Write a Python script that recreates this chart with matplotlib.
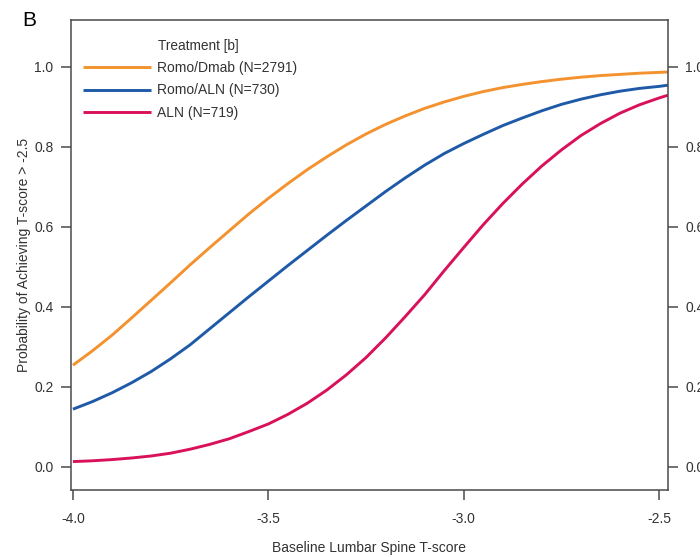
import matplotlib
matplotlib.use('Agg')
import matplotlib.pyplot as plt
import numpy as np

plt.rcParams['font.family'] = ['Liberation Sans', 'DejaVu Sans']

# values (step 0.05)
tscore = [-4.0, -3.95, -3.9, -3.85, -3.8, -3.75, -3.7, -3.65, -3.6, -3.55, -3.5,
          -3.45, -3.4, -3.35, -3.3, -3.25, -3.2, -3.15, -3.1, -3.05, -3.0,
          -2.95, -2.9, -2.85, -2.8, -2.75, -2.7, -2.65, -2.6, -2.55, -2.5, -2.477]
romo_dmab = [0.254, 0.290, 0.329, 0.372, 0.416, 0.460, 0.505, 0.548, 0.590, 0.632, 0.671,
             0.708, 0.743, 0.775, 0.805, 0.832, 0.856, 0.877, 0.896, 0.912, 0.926,
             0.938, 0.948, 0.956, 0.963, 0.969, 0.974, 0.978, 0.981, 0.984, 0.986, 0.987]
romo_aln = [0.144, 0.163, 0.185, 0.210, 0.238, 0.270, 0.305, 0.345, 0.385, 0.425, 0.464,
            0.503, 0.541, 0.579, 0.616, 0.652, 0.688, 0.722, 0.754, 0.783, 0.808,
            0.831, 0.853, 0.872, 0.890, 0.906, 0.919, 0.930, 0.939, 0.946, 0.951, 0.954]
aln = [0.013, 0.015, 0.018, 0.022, 0.027, 0.034, 0.044, 0.056, 0.070, 0.088, 0.107,
       0.131, 0.159, 0.192, 0.230, 0.273, 0.322, 0.375, 0.430, 0.490, 0.548,
       0.605, 0.658, 0.707, 0.752, 0.792, 0.828, 0.858, 0.884, 0.905, 0.922, 0.929]
labels = ['Romo/Dmab (N=2791)', 'Romo/ALN (N=730)', 'ALN (N=719)']
xticks = [-4.0, -3.5, -3.0, -2.5]
yticks = [0.0, 0.2, 0.4, 0.6, 0.8, 1.0]

clist = ['#F3922E', '#1E5AA8', '#D9115B']
txtc = '#333333'
spc = '#4a4a4a'

fig = plt.figure(figsize=(7, 5.57), dpi=100)
ax = fig.add_axes([0.1014, 0.1203, 0.8529, 0.8438])

for ys, c, lab in zip([romo_dmab, romo_aln, aln], clist, labels):
    ax.plot(tscore, ys, color=c, lw=2.1, label=lab, solid_capstyle='butt')

ax.set_xlim(-4.005, -2.477)
ax.set_ylim(-0.058, 1.117)
ax.set_xticks(xticks)
ax.set_xticklabels(['-4.0', '-3.5', '-3.0', '-2.5'])
ax.set_yticks(yticks)
ax.set_yticklabels(['%.1f' % v for v in yticks])

for s in ax.spines.values():
    s.set_color(spc)
    s.set_linewidth(1.1)
ax.tick_params(axis='x', direction='out', length=7, width=1.1, color=spc,
               labelsize=10, labelcolor=txtc, pad=9)
ax.tick_params(axis='y', direction='out', length=7.5, width=1.1, color=spc,
               labelsize=10, labelcolor=txtc, pad=5, right=True, labelright=True)

ax.set_xlabel('Baseline Lumbar Spine T-score', fontsize=10, color=txtc, labelpad=11)
ax.set_ylabel('Probability of Achieving T-score > -2.5', fontsize=10, color=txtc, labelpad=2.5)

leg = ax.legend(loc='upper left', bbox_to_anchor=(0.02, 0.913), frameon=False,
                fontsize=10, handlelength=4.9, handletextpad=0.45, labelspacing=0.62,
                borderpad=0, borderaxespad=0)
for t in leg.get_texts():
    t.set_color(txtc)
ax.text(0.146, 0.944, 'Treatment [b]', transform=ax.transAxes, fontsize=9.8,
        color=txtc, ha='left', va='center')

fig.text(0.032, 0.963, 'B', fontsize=15, color='black', ha='left', va='center')

fig.savefig('out.png', dpi=100)
